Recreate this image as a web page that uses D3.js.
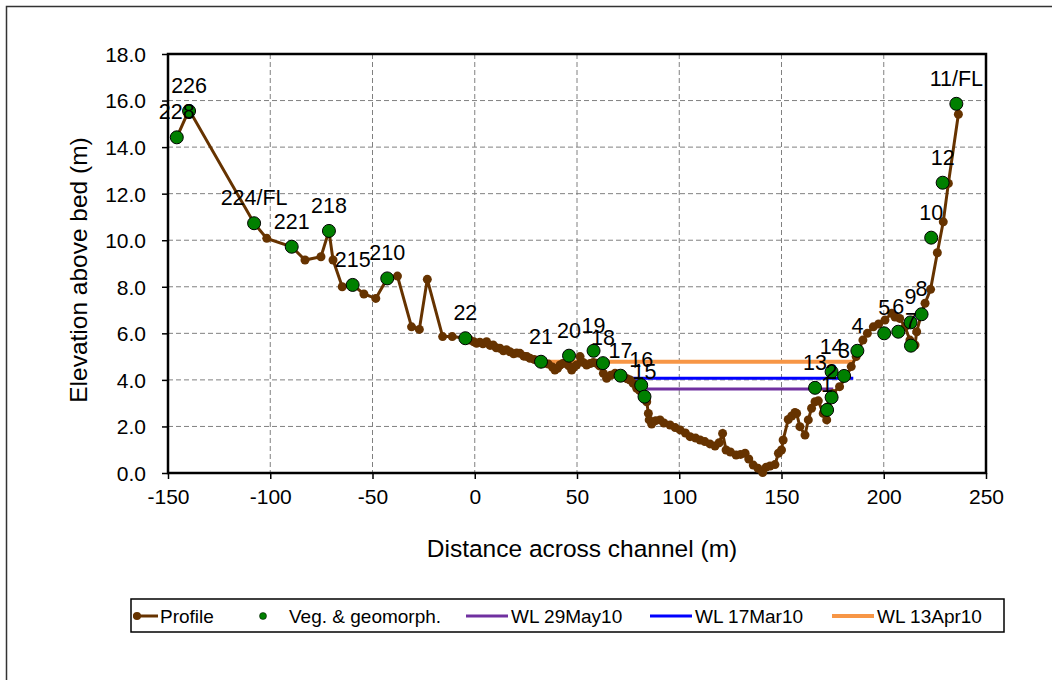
<!DOCTYPE html>
<html>
<head>
<meta charset="utf-8">
<script src="https://cdn.jsdelivr.net/npm/d3@7"></script>
<style>
  body { margin: 0; background: #fff; }
  svg { display: block; font-family: "Liberation Sans", Arial, sans-serif; }
</style>
</head>
<body>
<script>
// Profile survey points (distance m, elevation m)
const profileX = [-145.7, -139.7, -107.9, -101.7, -89.5, -83, -75.2, -71.3, -69.3, -64.8, -59.7, -54.2, -48.4, -42.8, -37.8, -30.9, -27.1, -23.2, -15.7, -11.0, -4.6,
  -2.3, -0.5, 0.9, 2.5, 4.0, 5.8, 7.5, 9.0, 10.5, 12.3, 14.0, 15.5, 17.2, 19.0, 20.5, 22.1, 24.0, 25.5, 27.0, 29.0, 30.5, 32.4, 34.0, 36.0, 38.0, 39.2, 40.5, 41.7, 43.0, 44.9,
  46.0, 47.4, 48.5, 49.8, 51.5, 53.0, 54.7, 56.5, 58.0, 59.6, 61.0, 62.9, 64.5, 66.5, 68.6, 70.5, 72.7, 74.5, 76.0, 77.5, 79.2, 80.5, 81.6, 83.0, 84.1, 84.9, 85.3,
  86.5, 88.5, 90.6, 92.5, 95.5, 98.0, 100.4, 103.0, 105.3, 108.0, 110.2, 112.5, 115.0, 117.5, 119.5, 121.2, 122.9, 125.0, 127.8, 130.0, 132.2, 134.0, 136.2, 138.5,
  140.8, 142.5, 144.4, 146.8, 148.5, 150.0, 150.8, 153.3, 155.0, 156.6, 157.4, 159.0, 161.5, 163.1, 164.7, 166.4, 168.0, 170.4, 172.1, 172.7, 175.1, 178.4, 181.7,
  184.1, 186.5, 189.8, 192.0, 194.9, 197.5, 200.6, 203.9, 205.5, 207.8, 210.4, 212.8, 215.3, 216.1, 218.5, 220.2, 222.9, 226.2, 229.1, 231.6, 236.5];
const profileY = [14.42, 15.6, 10.73, 10.08, 9.72, 9.15, 9.29, 10.4, 9.15, 8.0, 8.08, 7.69, 7.5, 8.36, 8.46, 6.28, 6.17, 8.32, 5.86, 5.86, 5.79,
  5.71, 5.64, 5.57, 5.62, 5.55, 5.64, 5.48, 5.5, 5.38, 5.36, 5.25, 5.3, 5.21, 5.12, 5.16, 5.14, 5.02, 5.0, 4.93, 4.88, 4.84, 4.78, 4.72, 4.68, 4.55, 4.42, 4.5, 4.64, 4.7, 4.71,
  4.6, 4.42, 4.55, 4.64, 5.0, 4.75, 4.64, 4.7, 4.75, 4.71, 4.6, 4.28, 4.07, 4.2, 4.28, 4.2, 4.14, 4.05, 3.99, 3.85, 3.64, 3.55, 3.49, 3.3, 3.06, 2.56, 2.28,
  2.1, 2.25, 2.28, 2.15, 2.06, 1.95, 1.85, 1.72, 1.56, 1.5, 1.42, 1.35, 1.25, 1.16, 1.3, 1.7, 0.99, 0.9, 0.77, 0.8, 0.85, 0.6, 0.34, 0.2,
  0.02, 0.25, 0.3, 0.36, 0.85, 0.99, 1.42, 2.3, 2.45, 2.6, 2.56, 1.99, 1.63, 2.28, 2.78, 3.06, 3.1, 2.56, 2.28, 2.85, 3.42, 3.71, 4.14,
  4.57, 5.0, 5.71, 6.0, 6.28, 6.4, 6.57, 6.86, 6.7, 6.64, 6.28, 5.71, 5.5, 6.07, 6.86, 7.29, 7.89, 9.46, 10.79, 12.44, 15.41];

// Vegetation & geomorphology points
const vegLabels = ["228", "226", "224/FL", "221", "218", "215", "210", "22", "21", "20", "19", "18", "17", "16", "15",
  "13", "1", "2", "14", "3", "4", "5", "6", "7", "9", "8", "10", "12", "11/FL"];
const vegX = [-145.7, -139.7, -107.9, -89.5, -71.3, -59.7, -42.8, -4.6, 32.4, 46.1, 58.1, 62.7, 71.3, 81.4, 83.0,
  166.4, 172.3, 174.5, 174.5, 180.6, 187.1, 200.2, 207.1, 213.3, 213.1, 218.5, 223.2, 228.8, 235.5];
const vegY = [14.42, 15.55, 10.73, 9.72, 10.4, 8.08, 8.36, 5.79, 4.78, 5.04, 5.25, 4.72, 4.18, 3.77, 3.28,
  3.66, 2.71, 3.25, 4.35, 4.17, 5.25, 6.0, 6.07, 5.47, 6.47, 6.82, 10.11, 12.47, 15.86];

// Water levels
const wlNames = ["WL 29May10", "WL 17Mar10", "WL 13Apr10"];
const wlLevel = [3.61, 4.07, 4.78];
const wlFrom = [84.0, 74.3, 32.4];
const wlTo = [175.3, 185.1, 185.9];
const wlColors = ["#7030a0", "#0000ff", "#f79646"];
const wlWidths = [3, 3, 4];

const xTicks = [-150, -100, -50, 0, 50, 100, 150, 200, 250];
const yTicks = [0, 2, 4, 6, 8, 10, 12, 14, 16, 18];

const brown = "#663300";
const green = "#008000";

const svg = d3.select("body").append("svg").attr("width", 1052).attr("height", 680);

// outer chart frame
svg.append("rect").attr("x", 6.5).attr("y", 6.5).attr("width", 1060).attr("height", 700)
  .attr("fill", "none").attr("stroke", "#333").attr("stroke-width", 1.5);

const pLeft = 168, pRight = 986, pTop = 54, pBottom = 473;
const x = d3.scaleLinear().domain([-150, 250]).range([pLeft, pRight]);
const y = d3.scaleLinear().domain([0, 18]).range([pBottom, pTop]);

// gridlines
const grid = svg.append("g").attr("stroke", "#808080").attr("stroke-width", 1).attr("stroke-dasharray", "5,3");
grid.selectAll("line.h").data(yTicks.slice(1)).enter().append("line")
  .attr("x1", pLeft).attr("x2", pRight).attr("y1", (d) => y(d)).attr("y2", (d) => y(d));
grid.selectAll("line.v").data(xTicks.slice(1, -1)).enter().append("line")
  .attr("y1", pTop).attr("y2", pBottom).attr("x1", (d) => x(d)).attr("x2", (d) => x(d));

// axes
const xAxis = d3.axisBottom(x).tickValues(xTicks).tickSize(6).tickSizeOuter(0).tickFormat((d) => String(d));
const yAxis = d3.axisLeft(y).tickValues(yTicks).tickSize(6).tickSizeOuter(0).tickFormat((d) => d.toFixed(1));

const gx = svg.append("g").attr("transform", `translate(0,${pBottom})`).call(xAxis);
const gy = svg.append("g").attr("transform", `translate(${pLeft},0)`).call(yAxis);
[gx, gy].forEach((g) => {
  g.select(".domain").remove();
  g.selectAll("line").attr("stroke", "#000").attr("stroke-width", 1.5);
  g.selectAll("text").attr("fill", "#000").style("font-size", "21px").style("font-family", "Liberation Sans, Arial, sans-serif");
});
gx.selectAll("text").attr("dy", null).attr("y", 31);
gy.selectAll("text").attr("x", -22).attr("dy", "0.35em");

// plot border
svg.append("rect").attr("x", pLeft).attr("y", pTop).attr("width", pRight - pLeft).attr("height", pBottom - pTop)
  .attr("fill", "none").attr("stroke", "#000").attr("stroke-width", 2.5);

svg.append("text").attr("x", 582).attr("y", 557).attr("text-anchor", "middle")
  .style("font-size", "24.5px").text("Distance across channel (m)");
svg.append("text").attr("transform", "translate(87,270) rotate(-90)").attr("text-anchor", "middle")
  .style("font-size", "24.5px").text("Elevation above bed (m)");

// water levels
svg.selectAll("line.wl").data(wlNames).enter().append("line")
  .attr("x1", (d, i) => x(wlFrom[i])).attr("x2", (d, i) => x(wlTo[i]))
  .attr("y1", (d, i) => y(wlLevel[i])).attr("y2", (d, i) => y(wlLevel[i]))
  .attr("stroke", (d, i) => wlColors[i]).attr("stroke-width", (d, i) => wlWidths[i]);

// profile
const profile = profileX.map((d, i) => [d, profileY[i]]);
svg.append("path").datum(profile)
  .attr("d", d3.line().x((d) => x(d[0])).y((d) => y(d[1])))
  .attr("fill", "none").attr("stroke", brown).attr("stroke-width", 3);
svg.selectAll("circle.p").data(profile).enter().append("circle")
  .attr("cx", (d) => x(d[0])).attr("cy", (d) => y(d[1])).attr("r", 4.5).attr("fill", brown);

// vegetation markers
svg.selectAll("circle.v").data(vegLabels).enter().append("circle")
  .attr("cx", (d, i) => x(vegX[i])).attr("cy", (d, i) => y(vegY[i])).attr("r", 6.5)
  .attr("fill", green).attr("stroke", "#000").attr("stroke-width", 1);
svg.selectAll("text.v").data(vegLabels).enter().append("text")
  .attr("x", (d, i) => x(vegX[i])).attr("y", (d, i) => y(vegY[i]) - 18)
  .attr("text-anchor", "middle").style("font-size", "21.5px").text((d) => d);

// legend
const lg = svg.append("g");
lg.append("rect").attr("x", 131).attr("y", 599).attr("width", 873).attr("height", 33)
  .attr("fill", "#fff").attr("stroke", "#000").attr("stroke-width", 1.5);
const ly = 616;
lg.append("line").attr("x1", 133).attr("x2", 158).attr("y1", ly).attr("y2", ly).attr("stroke", brown).attr("stroke-width", 3);
lg.append("circle").attr("cx", 137).attr("cy", ly).attr("r", 4).attr("fill", brown);
lg.append("text").attr("x", 160).attr("y", ly).attr("dy", "0.35em").style("font-size", "19px").text("Profile");
lg.append("circle").attr("cx", 263).attr("cy", ly).attr("r", 3.5).attr("fill", green).attr("stroke", "#000").attr("stroke-width", 0.5);
lg.append("text").attr("x", 289).attr("y", ly).attr("dy", "0.35em").style("font-size", "19px").text("Veg. & geomorph.");
const wlLegX = [466, 650, 832];
lg.selectAll("line.l").data(wlNames).enter().append("line")
  .attr("x1", (d, i) => wlLegX[i]).attr("x2", (d, i) => wlLegX[i] + 42)
  .attr("y1", ly).attr("y2", ly)
  .attr("stroke", (d, i) => wlColors[i]).attr("stroke-width", (d, i) => wlWidths[i]);
lg.selectAll("text.l").data(wlNames).enter().append("text")
  .attr("x", (d, i) => wlLegX[i] + 45).attr("y", ly).attr("dy", "0.35em")
  .style("font-size", "19px").text((d) => d);
</script>
</body>
</html>
